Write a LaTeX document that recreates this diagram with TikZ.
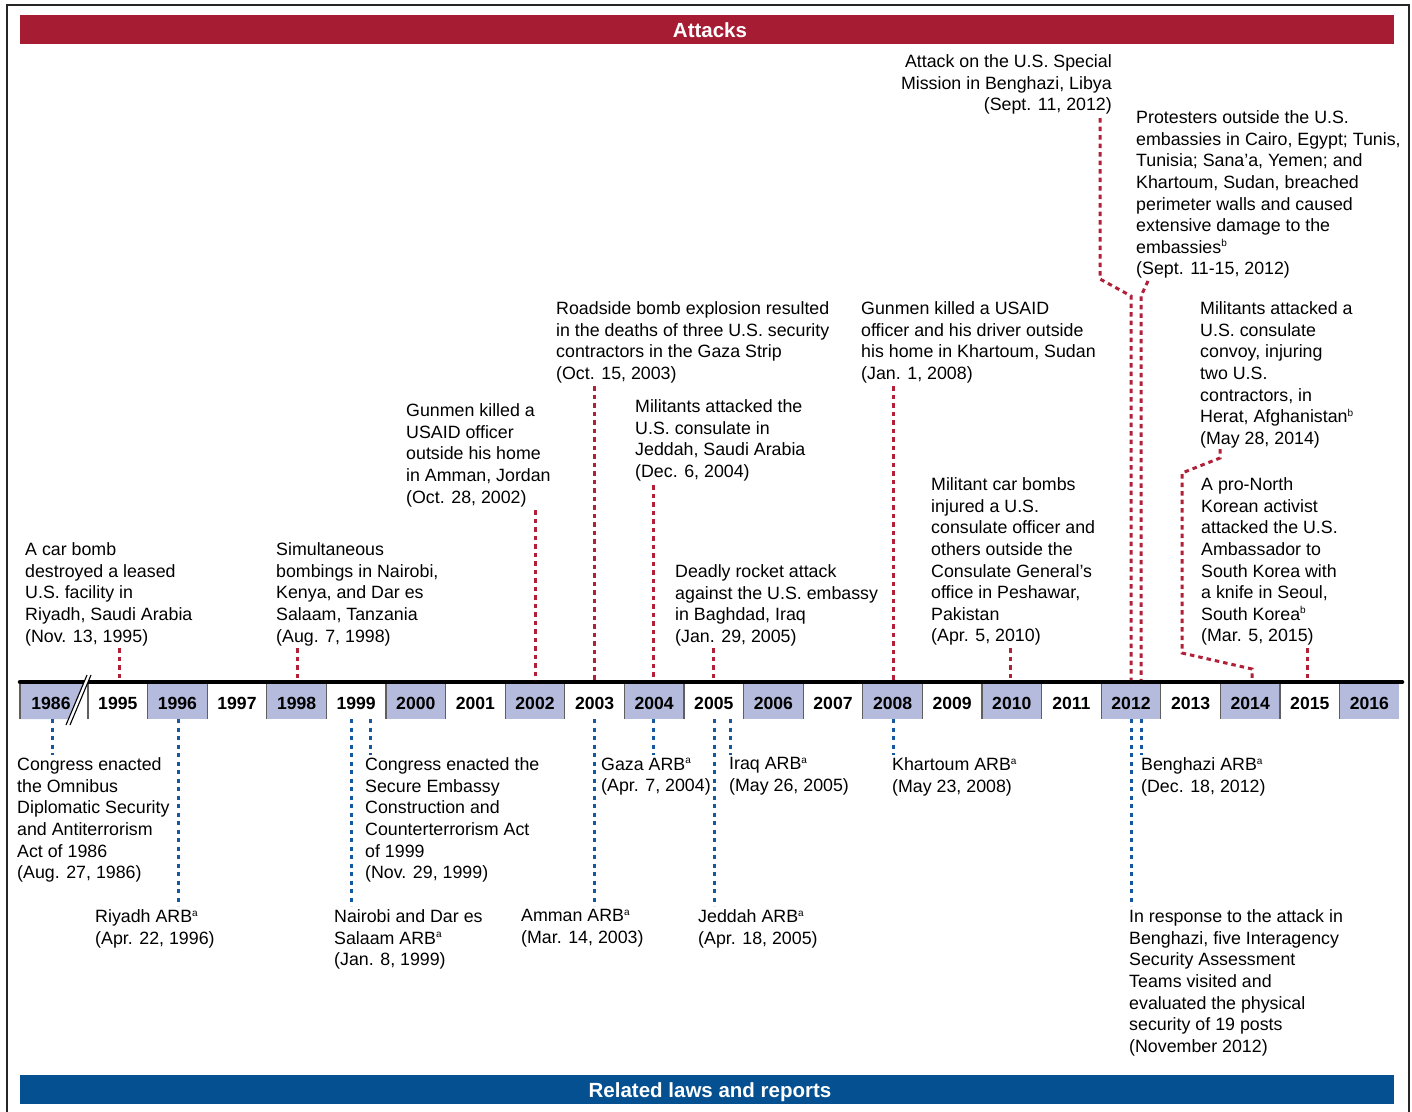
\documentclass[tikz,border=0pt]{standalone}
\usepackage{fontspec}
\setmainfont{Liberation Sans}
\definecolor{attackred}{RGB}{166,28,50}
\definecolor{lawblue}{RGB}{4,80,145}
\definecolor{conred}{RGB}{178,32,56}
\definecolor{conblue}{RGB}{22,88,160}
\definecolor{yearfill}{RGB}{181,187,221}
\definecolor{edgegray}{RGB}{95,95,95}
\newcommand{\sps}[1]{\raisebox{6.5pt}{\fontsize{10}{10}\selectfont #1}}
\begin{document}
\begin{tikzpicture}[x=1pt,y=-1pt,
  txt/.style={anchor=north west, inner sep=0pt, align=left, font=\fontsize{17.8}{21.6}\selectfont},
  txtr/.style={txt, anchor=north east, align=right},
  yr/.style={font=\fontsize{17.6}{20}\selectfont\bfseries, inner sep=0pt, minimum width=59.6pt, minimum height=35pt, text height=15.6pt, text depth=0pt},
  yrfill/.style={yr, fill=yearfill},
  ban/.style={minimum width=1374pt, minimum height=29pt, inner sep=0pt},
  bantext/.style={inner sep=0pt, text=white, font=\fontsize{20.5}{24}\selectfont\bfseries, text height=14.7pt, text depth=0pt},
  rc/.style={draw=conred, line width=3pt, dash pattern=on 4.5pt off 4pt},
  bc/.style={draw=conblue, line width=3pt, dash pattern=on 4pt off 4.5pt},
  edge/.style={draw=edgegray, line width=1.1pt}]
\useasboundingbox (0,0) rectangle (1412,1111);
\clip (0,0) rectangle (1412,1111);
\fill[white] (0,0) rectangle (1412,1111);
% frame
\draw[line width=1.5pt, black!85] (7,5) rectangle (1409,1130);
% banners
\node[ban, fill=attackred] (attacks) at (707,29.5) {};
\node[bantext] (attackst) at (710,30.5) {Attacks};
\node[ban, fill=lawblue] (laws) at (707,1089.5) {};
\node[bantext] (lawst) at (710,1090.5) {Related laws and reports};

% year boxes
\fill[yearfill] (20,684) -- (83.2,684) -- (68.5,719) -- (20,719) -- cycle;
\node[yr] (y1986) at (51,701.5) {1986};
\node[yr] (y1995) at (117.8,701.5) {1995};
\node[yrfill] (y1996) at (177.4,701.5) {1996};
\node[yr] (y1997) at (237.0,701.5) {1997};
\node[yrfill] (y1998) at (296.6,701.5) {1998};
\node[yr] (y1999) at (356.2,701.5) {1999};
\node[yrfill] (y2000) at (415.8,701.5) {2000};
\node[yr] (y2001) at (475.4,701.5) {2001};
\node[yrfill] (y2002) at (535.0,701.5) {2002};
\node[yr] (y2003) at (594.6,701.5) {2003};
\node[yrfill] (y2004) at (654.2,701.5) {2004};
\node[yr] (y2005) at (713.8,701.5) {2005};
\node[yrfill] (y2006) at (773.4,701.5) {2006};
\node[yr] (y2007) at (833.0,701.5) {2007};
\node[yrfill] (y2008) at (892.6,701.5) {2008};
\node[yr] (y2009) at (952.2,701.5) {2009};
\node[yrfill] (y2010) at (1011.8,701.5) {2010};
\node[yr] (y2011) at (1071.4,701.5) {2011};
\node[yrfill] (y2012) at (1131.0,701.5) {2012};
\node[yr] (y2013) at (1190.6,701.5) {2013};
\node[yrfill] (y2014) at (1250.2,701.5) {2014};
\node[yr] (y2015) at (1309.8,701.5) {2015};
\node[yrfill] (y2016) at (1369.4,701.5) {2016};
\foreach \xx in {88,147.6,...,1398} {\draw[edge] (\xx,684) -- (\xx,719);}
\draw[edge] (20,684) -- (20,719);

% timeline
\draw[line width=4.5pt, line cap=round] (20,682) -- (1402,682);
\coordinate (tl) at (0,680);
\coordinate (tb) at (0,719);
% break mark
\fill[white] (87,675) -- (91,675) -- (70,725) -- (66,725) -- cycle;
\draw[line width=1.1pt] (87,675) -- (66,725);
\draw[line width=1.1pt] (91,675) -- (70,725);

% attack texts
\node[txt] (a1995) at (25,542.5) {A car bomb\\destroyed a leased\\U.S. facility in\\Riyadh, Saudi Arabia\\(Nov. 13, 1995)};
\node[txt] (a1998) at (276,542.5) {Simultaneous\\bombings in Nairobi,\\Kenya, and Dar es\\Salaam, Tanzania\\(Aug. 7, 1998)};
\node[txt] (a2002) at (406,403.5) {Gunmen killed a\\USAID officer\\outside his home\\in Amman, Jordan\\(Oct. 28, 2002)};
\node[txt] (a2003) at (556,301.5) {Roadside bomb explosion resulted\\in the deaths of three U.S. security\\contractors in the Gaza Strip\\(Oct. 15, 2003)};
\node[txt] (a2004) at (635,399.5) {Militants attacked the\\U.S. consulate in\\Jeddah, Saudi Arabia\\(Dec. 6, 2004)};
\node[txt] (a2005) at (675,564.5) {Deadly rocket attack\\against the U.S. embassy\\in Baghdad, Iraq\\(Jan. 29, 2005)};
\node[txt] (a2008) at (861,301.5) {Gunmen killed a USAID\\officer and his driver outside\\his home in Khartoum, Sudan\\(Jan. 1, 2008)};
\node[txt] (a2010) at (931,477.5) {Militant car bombs\\injured a U.S.\\consulate officer and\\others outside the\\Consulate General’s\\office in Peshawar,\\Pakistan\\(Apr. 5, 2010)};
\node[txtr] (a2012a) at (1112,54.5) {Attack on the U.S. Special\\Mission in Benghazi, Libya\\(Sept. 11, 2012)};
\node[txt] (a2012b) at (1136,110.5) {Protesters outside the U.S.\\embassies in Cairo, Egypt; Tunis,\\Tunisia; Sana’a, Yemen; and\\Khartoum, Sudan, breached\\perimeter walls and caused\\extensive damage to the\\embassies\sps{b}\\(Sept. 11-15, 2012)};
\node[txt] (a2014) at (1200,301.5) {Militants attacked a\\U.S. consulate\\convoy, injuring\\two U.S.\\contractors, in\\Herat, Afghanistan\sps{b}\\(May 28, 2014)};
\node[txt] (a2015) at (1201,477.5) {A pro-North\\Korean activist\\attacked the U.S.\\Ambassador to\\South Korea with\\a knife in Seoul,\\South Korea\sps{b}\\(Mar. 5, 2015)};

% law texts
\node[txt] (l1986) at (17,757.5) {Congress enacted\\the Omnibus\\Diplomatic Security\\and Antiterrorism\\Act of 1986\\(Aug. 27, 1986)};
\node[txt] (l1996) at (95,909.5) {Riyadh ARB\sps{a}\\(Apr. 22, 1996)};
\node[txt] (l1999a) at (365,757.5) {Congress enacted the\\Secure Embassy\\Construction and\\Counterterrorism Act\\of 1999\\(Nov. 29, 1999)};
\node[txt] (l1999b) at (334,909.5) {Nairobi and Dar es\\Salaam ARB\sps{a}\\(Jan. 8, 1999)};
\node[txt] (l2003) at (521,909.5) {Amman ARB\sps{a}\\(Mar. 14, 2003)};
\node[txt] (l2004) at (601,757.5) {Gaza ARB\sps{a}\\(Apr. 7, 2004)};
\node[txt] (l2005a) at (729,757.5) {Iraq ARB\sps{a}\\(May 26, 2005)};
\node[txt] (l2005b) at (698,909.5) {Jeddah ARB\sps{a}\\(Apr. 18, 2005)};
\node[txt] (l2008) at (892,757.5) {Khartoum ARB\sps{a}\\(May 23, 2008)};
\node[txt] (l2012a) at (1141,757.5) {Benghazi ARB\sps{a}\\(Dec. 18, 2012)};
\node[txt] (l2012b) at (1129,909.5) {In response to the attack in\\Benghazi, five Interagency\\Security Assessment\\Teams visited and\\evaluated the physical\\security of 19 posts\\(November 2012)};

% red connectors
\coordinate (r1995) at (119,648);
\coordinate (r1998) at (297,648);
\coordinate (r2002) at (535,510);
\coordinate (r2003) at (594,386);
\coordinate (r2004) at (653,485);
\coordinate (r2005) at (713,648);
\coordinate (r2008) at (893,386);
\coordinate (r2010) at (1010,648);
\coordinate (r2015) at (1307,648);
\foreach \c in {r1995,r1998,r2002,r2003,r2004,r2005,r2008,r2010,r2015}
  {\draw[rc] (\c) -- (\c |- tl);}
\coordinate (rb1) at (1100,118);
\coordinate (rb2) at (1131,296);
\draw[rc] (rb1) -- (1100,279) -- (rb2) -- (rb2 |- tl);
\coordinate (rp1) at (1148,281);
\coordinate (rp2) at (1141,296);
\draw[rc] (rp1) -- (rp2) -- (rp2 |- tl);
\coordinate (rh1) at (1220,449);
\coordinate (rh2) at (1252,669);
\draw[rc] (rh1) -- (1220,458) -- (1182,473) -- (1182,653) -- (rh2) -- (rh2 |- tl);

% blue connectors
\coordinate (b1986) at (52,755);
\coordinate (b1996) at (178,906);
\coordinate (b1999a) at (351,906);
\coordinate (b1999b) at (370,755);
\coordinate (b2003) at (594,906);
\coordinate (b2004) at (653,755);
\coordinate (b2005a) at (714,906);
\coordinate (b2005b) at (730,755);
\coordinate (b2008) at (893,755);
\coordinate (b2012a) at (1131,906);
\coordinate (b2012b) at (1141,755);
\foreach \c in {b1986,b1996,b1999a,b1999b,b2003,b2004,b2005a,b2005b,b2008,b2012a,b2012b}
  {\draw[bc] (\c |- tb) -- (\c);}
\end{tikzpicture}
\end{document}
